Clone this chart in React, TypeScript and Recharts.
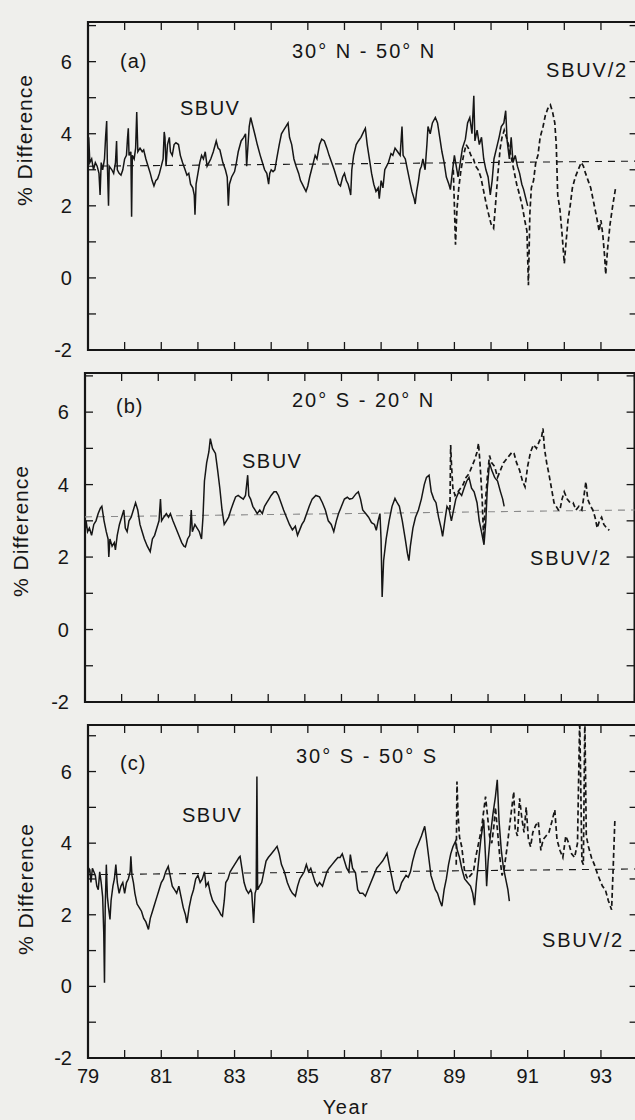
import { Line, LineChart, XAxis, YAxis, ReferenceArea, ReferenceLine } from "recharts";

const INK = "#161616";
const PAPER = "#efefec";
const FONT = '"Liberation Sans", Arial, Helvetica, sans-serif';

const YEARS = [79, 80, 81, 82, 83, 84, 85, 86, 87, 88, 89, 90, 91, 92, 93, 94];
const YEAR_LABELS = [79, 81, 83, 85, 87, 89, 91, 93];
const LEVELS = [-2, -1, 0, 1, 2, 3, 4, 5, 6, 7];
const LEVEL_LABELS = [-2, 0, 2, 4, 6];
const PX_PER_YEAR = 36.64;
const AXIS_W = 30;
const AXIS_H = 30;

// (a) 30N-50N
const A_SBUV: [number, number][] = [
  [79.0, 3.4], [79.02, 3.9], [79.05, 3.2], [79.1, 3.3], [79.15, 3.0], [79.2, 3.2], [79.25, 3.1], [79.3, 2.9],
  [79.33, 2.3], [79.36, 3.2], [79.4, 3.0], [79.45, 3.3], [79.48, 3.9], [79.51, 4.35], [79.53, 3.1], [79.56, 2.0],
  [79.58, 3.1], [79.65, 3.0], [79.7, 2.9], [79.75, 3.2], [79.78, 3.8], [79.8, 3.0], [79.85, 2.9], [79.9, 2.85],
  [79.95, 3.0], [80.0, 3.3], [80.05, 3.4], [80.08, 3.9], [80.1, 4.15], [80.12, 3.4], [80.17, 3.5], [80.19, 1.7],
  [80.21, 3.4], [80.26, 3.3], [80.3, 3.6], [80.33, 4.6], [80.36, 3.5], [80.42, 3.6], [80.48, 3.5], [80.52, 3.55],
  [80.58, 3.3], [80.64, 3.1], [80.7, 2.9], [80.75, 2.7], [80.8, 2.55], [80.85, 2.7], [80.9, 2.75], [80.95, 2.9],
  [81.0, 3.1], [81.05, 3.3], [81.08, 4.05], [81.1, 3.9], [81.13, 3.1], [81.17, 3.7], [81.22, 3.9], [81.25, 3.5],
  [81.3, 3.4], [81.35, 3.7], [81.4, 3.75], [81.47, 3.7], [81.52, 3.4], [81.58, 3.2], [81.65, 3.0], [81.7, 2.85],
  [81.75, 2.9], [81.8, 2.6], [81.86, 2.5], [81.9, 2.3], [81.92, 1.75], [81.95, 2.6], [82.0, 2.9], [82.05, 3.2],
  [82.1, 3.4], [82.15, 3.3], [82.2, 3.5], [82.25, 3.1], [82.3, 3.2], [82.35, 3.3], [82.42, 3.5], [82.5, 3.8],
  [82.55, 3.6], [82.6, 3.55], [82.68, 3.2], [82.75, 3.0], [82.8, 2.8], [82.83, 2.0], [82.86, 2.6], [82.92, 2.8],
  [83.0, 2.95], [83.05, 3.2], [83.1, 3.5], [83.18, 3.8], [83.25, 3.9], [83.3, 4.0], [83.33, 3.1], [83.4, 4.2],
  [83.44, 4.45], [83.5, 4.2], [83.55, 4.0], [83.62, 3.7], [83.7, 3.4], [83.76, 3.2], [83.82, 3.0], [83.88, 2.9],
  [83.93, 2.6], [83.96, 2.9], [84.0, 3.0], [84.05, 2.95], [84.1, 3.0], [84.15, 3.3], [84.22, 3.7], [84.28, 4.0],
  [84.34, 4.1], [84.4, 4.2], [84.46, 4.3], [84.5, 3.9], [84.56, 3.7], [84.62, 3.3], [84.68, 3.1], [84.75, 2.9],
  [84.8, 2.7], [84.85, 2.6], [84.9, 2.5], [84.95, 2.4], [85.0, 2.55], [85.05, 2.8], [85.1, 3.0], [85.15, 3.2],
  [85.2, 3.4], [85.25, 3.3], [85.32, 3.7], [85.38, 3.85], [85.45, 3.8], [85.52, 3.6], [85.58, 3.4], [85.65, 3.2],
  [85.72, 3.0], [85.78, 2.8], [85.84, 2.6], [85.89, 2.55], [85.95, 2.8], [86.0, 2.9], [86.05, 2.7], [86.1, 2.6],
  [86.15, 2.4], [86.17, 2.3], [86.2, 3.0], [86.25, 3.4], [86.32, 3.7], [86.38, 3.8], [86.45, 3.9], [86.52, 4.05],
  [86.57, 4.15], [86.62, 3.7], [86.68, 3.3], [86.74, 2.9], [86.8, 2.6], [86.86, 2.4], [86.92, 2.5], [86.95, 2.2],
  [87.0, 2.7], [87.05, 2.5], [87.1, 3.0], [87.15, 3.1], [87.2, 3.2], [87.27, 3.45], [87.32, 3.4], [87.38, 3.6],
  [87.45, 3.5], [87.52, 3.4], [87.57, 4.2], [87.6, 3.4], [87.66, 3.3], [87.72, 3.0], [87.78, 2.7], [87.84, 2.4],
  [87.9, 2.2], [87.93, 2.05], [87.97, 2.4], [88.02, 2.7], [88.06, 3.0], [88.1, 3.1], [88.14, 3.3], [88.2, 3.0],
  [88.25, 3.7], [88.28, 4.2], [88.34, 4.0], [88.4, 4.3], [88.48, 4.45], [88.54, 4.3], [88.6, 3.9], [88.66, 3.5],
  [88.72, 3.2], [88.78, 2.8], [88.85, 2.6], [88.89, 2.45], [88.94, 2.9], [89.0, 3.4], [89.05, 3.1], [89.1, 2.8],
  [89.16, 3.2], [89.22, 3.6], [89.3, 3.85], [89.36, 4.3], [89.42, 4.45], [89.48, 4.0], [89.53, 5.05], [89.56, 3.8],
  [89.62, 4.1], [89.68, 3.7], [89.74, 3.9], [89.8, 3.3], [89.86, 3.0], [89.92, 2.8], [89.98, 2.3], [90.03, 2.7],
  [90.08, 3.3], [90.15, 3.6], [90.22, 3.9], [90.28, 4.2], [90.35, 4.3], [90.4, 4.64], [90.44, 3.8], [90.5, 3.3],
  [90.55, 3.9], [90.6, 3.2], [90.66, 3.4], [90.72, 3.1], [90.78, 2.9], [90.84, 2.6], [90.89, 2.45], [90.95, 2.2],
  [91.0, 2.0],
];
const A_SBUV2: [number, number][] = [
  [88.97, 3.0], [89.0, 2.0], [89.03, 0.92], [89.07, 1.9], [89.12, 2.5], [89.18, 3.0], [89.25, 3.4], [89.32, 3.7],
  [89.38, 3.6], [89.45, 3.4], [89.52, 3.3], [89.58, 3.1], [89.65, 3.0], [89.72, 2.8], [89.8, 2.4], [89.88, 2.0],
  [89.95, 1.7], [90.0, 1.5], [90.07, 1.38], [90.12, 2.0], [90.18, 2.8], [90.25, 3.6], [90.3, 3.9], [90.36, 4.1],
  [90.42, 3.9], [90.5, 3.6], [90.56, 3.3], [90.62, 3.0], [90.7, 2.6], [90.78, 2.3], [90.85, 2.0], [90.92, 1.6],
  [90.98, 1.3], [91.02, -0.2], [91.06, 1.8], [91.1, 2.5], [91.16, 2.7], [91.22, 3.2], [91.28, 3.4], [91.34, 3.9],
  [91.42, 4.2], [91.48, 4.5], [91.55, 4.7], [91.62, 4.8], [91.68, 4.6], [91.74, 4.3], [91.78, 3.7], [91.82, 2.3],
  [91.88, 1.9], [91.94, 1.2], [92.0, 0.4], [92.04, 0.9], [92.1, 1.6], [92.16, 2.0], [92.22, 2.5], [92.3, 2.8],
  [92.38, 3.0], [92.46, 3.2], [92.52, 3.1], [92.58, 2.9], [92.65, 2.7], [92.72, 2.5], [92.8, 2.1], [92.88, 1.7],
  [92.95, 1.3], [93.0, 1.6], [93.05, 1.2], [93.1, 0.6], [93.13, 0.1], [93.18, 0.8], [93.25, 1.5], [93.32, 2.0],
  [93.4, 2.5],
];
const A_MEAN = [3.1, 3.24];

// (b) 20S-20N
const B_SBUV: [number, number][] = [
  [79.0, 2.7], [79.03, 3.0], [79.07, 2.7], [79.12, 2.8], [79.18, 2.6], [79.24, 2.9], [79.3, 3.0], [79.36, 3.2],
  [79.42, 3.35], [79.46, 3.4], [79.52, 3.0], [79.58, 2.7], [79.63, 2.5], [79.65, 2.0], [79.68, 2.5], [79.74, 2.3],
  [79.8, 2.4], [79.83, 2.2], [79.88, 2.6], [79.94, 2.9], [80.0, 3.1], [80.06, 3.3], [80.1, 2.8], [80.15, 2.7],
  [80.2, 3.0], [80.26, 3.1], [80.32, 3.3], [80.38, 3.5], [80.44, 3.3], [80.5, 2.9], [80.56, 2.7], [80.62, 2.5],
  [80.7, 2.3], [80.78, 2.15], [80.84, 2.5], [80.9, 2.6], [80.96, 2.8], [81.02, 3.0], [81.06, 3.6], [81.09, 3.0],
  [81.15, 3.1], [81.22, 3.2], [81.28, 3.1], [81.33, 3.2], [81.4, 3.0], [81.48, 2.8], [81.56, 2.6], [81.64, 2.4],
  [81.7, 2.3], [81.74, 2.28], [81.8, 2.5], [81.86, 2.6], [81.9, 3.3], [81.93, 2.7], [82.0, 2.9], [82.06, 2.8],
  [82.12, 2.7], [82.18, 2.5], [82.22, 3.1], [82.26, 4.1], [82.32, 4.6], [82.38, 4.9], [82.42, 5.27], [82.48, 5.0],
  [82.56, 4.86], [82.62, 4.4], [82.68, 3.9], [82.74, 3.3], [82.8, 2.9], [82.86, 3.0], [82.92, 3.1], [82.98, 3.3],
  [83.05, 3.5], [83.11, 3.66], [83.18, 3.7], [83.25, 3.65], [83.32, 3.6], [83.38, 3.7], [83.44, 4.26], [83.47, 3.7],
  [83.52, 3.6], [83.58, 3.4], [83.64, 3.3], [83.7, 3.2], [83.77, 3.3], [83.84, 3.2], [83.9, 3.4], [83.96, 3.5],
  [84.02, 3.6], [84.08, 3.7], [84.16, 3.8], [84.22, 3.8], [84.28, 3.7], [84.35, 3.5], [84.42, 3.3], [84.5, 3.1],
  [84.58, 2.9], [84.66, 2.75], [84.74, 2.85], [84.8, 2.6], [84.86, 2.75], [84.92, 2.9], [84.98, 3.0], [85.05, 3.2],
  [85.12, 3.4], [85.2, 3.6], [85.3, 3.7], [85.4, 3.66], [85.48, 3.5], [85.56, 3.3], [85.64, 3.0], [85.72, 2.9],
  [85.79, 2.7], [85.86, 3.0], [85.92, 3.2], [86.0, 3.4], [86.08, 3.6], [86.16, 3.65], [86.22, 3.6], [86.3, 3.62],
  [86.4, 3.75], [86.46, 3.8], [86.52, 3.6], [86.58, 3.3], [86.66, 3.2], [86.74, 3.1], [86.82, 2.95], [86.9, 2.9],
  [86.95, 2.74], [87.0, 3.0], [87.05, 3.2], [87.08, 2.5], [87.11, 0.9], [87.15, 1.9], [87.22, 2.5], [87.3, 3.0],
  [87.38, 3.4], [87.46, 3.62], [87.52, 3.5], [87.58, 3.4], [87.66, 3.0], [87.74, 2.5], [87.8, 2.1], [87.84, 1.9],
  [87.88, 2.3], [87.95, 2.8], [88.02, 3.1], [88.1, 3.3], [88.18, 3.6], [88.26, 4.0], [88.32, 4.2], [88.39, 4.26],
  [88.45, 3.8], [88.52, 3.6], [88.58, 3.5], [88.65, 3.1], [88.72, 2.8], [88.76, 2.57], [88.82, 3.0], [88.88, 3.4],
  [88.94, 3.3], [89.0, 3.0], [89.06, 3.3], [89.12, 3.6], [89.2, 3.8], [89.28, 3.7], [89.36, 3.94], [89.42, 4.1],
  [89.48, 4.2], [89.55, 3.9], [89.62, 3.8], [89.7, 3.5], [89.76, 3.0], [89.82, 2.7], [89.89, 2.34], [89.94, 3.0],
  [89.98, 3.9], [90.04, 4.6], [90.1, 4.4], [90.18, 4.2], [90.26, 4.1], [90.34, 3.8], [90.4, 3.6], [90.44, 3.4],
];
const B_SBUV2: [number, number][] = [
  [88.96, 3.3], [88.98, 5.09], [89.0, 4.6], [89.04, 3.9], [89.1, 3.7], [89.18, 3.8], [89.25, 3.9], [89.32, 4.0],
  [89.4, 4.2], [89.48, 4.3], [89.56, 4.5], [89.64, 4.7], [89.7, 4.9], [89.74, 5.14], [89.78, 4.6], [89.84, 3.6],
  [89.88, 2.5], [89.92, 3.4], [89.98, 4.2], [90.04, 4.8], [90.1, 4.6], [90.18, 4.5], [90.26, 4.2], [90.34, 4.4],
  [90.42, 4.6], [90.5, 4.7], [90.58, 4.8], [90.66, 4.9], [90.71, 4.86], [90.78, 4.6], [90.86, 4.4], [90.94, 4.1],
  [91.01, 3.94], [91.08, 4.5], [91.16, 4.9], [91.24, 5.1], [91.32, 5.0], [91.4, 5.2], [91.46, 5.3], [91.5, 5.55],
  [91.54, 5.0], [91.6, 4.6], [91.66, 4.3], [91.74, 3.85], [91.8, 3.5], [91.86, 3.4], [91.92, 3.3], [91.96, 3.29],
  [92.02, 3.6], [92.08, 3.8], [92.16, 3.6], [92.24, 3.5], [92.32, 3.5], [92.4, 3.3], [92.48, 3.4], [92.56, 3.3],
  [92.62, 3.7], [92.67, 4.08], [92.72, 3.6], [92.8, 3.4], [92.86, 3.3], [92.92, 3.1], [92.98, 2.8], [93.04, 3.0],
  [93.1, 3.1], [93.16, 2.9], [93.24, 2.8], [93.31, 2.74],
];
const B_MEAN = [3.11, 3.3];

// (c) 30S-50S
const C_SBUV: [number, number][] = [
  [79.0, 3.0], [79.02, 3.3], [79.05, 3.26], [79.08, 2.9], [79.12, 3.3], [79.16, 3.2], [79.2, 3.1], [79.24, 2.8],
  [79.28, 2.7], [79.32, 3.2], [79.36, 2.9], [79.4, 2.5], [79.43, 1.5], [79.45, 0.1], [79.47, 2.2], [79.5, 3.4],
  [79.53, 2.5], [79.56, 2.2], [79.6, 1.87], [79.63, 2.4], [79.68, 2.8], [79.72, 3.0], [79.76, 3.4], [79.8, 2.9],
  [79.85, 2.6], [79.9, 2.8], [79.95, 2.9], [80.0, 2.6], [80.05, 2.9], [80.1, 3.0], [80.15, 3.2], [80.17, 3.63],
  [80.2, 3.1], [80.24, 2.9], [80.28, 2.6], [80.34, 2.3], [80.4, 2.2], [80.46, 2.1], [80.52, 1.9], [80.58, 1.8],
  [80.65, 1.59], [80.7, 1.9], [80.76, 2.1], [80.82, 2.3], [80.88, 2.5], [80.94, 2.7], [81.0, 2.9], [81.06, 3.0],
  [81.12, 3.2], [81.19, 3.35], [81.24, 3.1], [81.3, 2.8], [81.36, 2.7], [81.42, 2.6], [81.48, 2.8], [81.54, 2.5],
  [81.6, 2.2], [81.66, 2.0], [81.7, 1.77], [81.76, 2.2], [81.82, 2.5], [81.88, 2.7], [81.94, 3.0], [82.0, 3.1],
  [82.06, 2.9], [82.12, 3.0], [82.18, 3.2], [82.22, 2.8], [82.28, 2.9], [82.34, 2.6], [82.4, 2.4], [82.46, 2.3],
  [82.52, 2.2], [82.58, 2.1], [82.63, 2.0], [82.67, 1.96], [82.72, 2.4], [82.76, 2.9], [82.82, 3.0], [82.88, 3.2],
  [82.94, 3.3], [83.0, 3.4], [83.06, 3.5], [83.12, 3.6], [83.15, 3.63], [83.2, 3.3], [83.26, 2.9], [83.32, 2.7],
  [83.38, 2.6], [83.44, 2.7], [83.47, 2.61], [83.52, 1.77], [83.56, 2.6], [83.59, 2.7], [83.61, 5.86], [83.63, 2.7],
  [83.68, 2.8], [83.74, 2.9], [83.8, 3.2], [83.86, 3.5], [83.92, 3.6], [84.0, 3.7], [84.08, 3.8], [84.16, 3.91],
  [84.22, 3.7], [84.28, 3.4], [84.36, 3.2], [84.44, 2.9], [84.52, 2.7], [84.58, 2.6], [84.66, 2.52], [84.72, 2.8],
  [84.78, 3.0], [84.84, 3.1], [84.9, 3.2], [84.96, 3.4], [85.02, 3.2], [85.08, 3.3], [85.14, 3.1], [85.2, 2.9],
  [85.26, 2.8], [85.32, 2.9], [85.4, 2.8], [85.46, 3.0], [85.52, 3.2], [85.58, 3.3], [85.66, 3.4], [85.74, 3.5],
  [85.82, 3.6], [85.88, 3.6], [85.94, 3.7], [86.0, 3.5], [86.06, 3.3], [86.12, 3.2], [86.16, 3.68], [86.22, 3.3],
  [86.3, 3.17], [86.36, 2.7], [86.42, 2.6], [86.5, 2.6], [86.57, 2.52], [86.64, 2.7], [86.72, 2.9], [86.8, 3.1],
  [86.88, 3.3], [86.96, 3.4], [87.04, 3.5], [87.1, 3.6], [87.16, 3.72], [87.22, 3.4], [87.3, 3.0], [87.36, 2.7],
  [87.42, 2.6], [87.5, 2.7], [87.56, 2.9], [87.62, 3.0], [87.68, 3.1], [87.74, 3.05], [87.8, 3.2], [87.86, 3.5],
  [87.94, 3.8], [88.02, 4.0], [88.1, 4.2], [88.19, 4.47], [88.24, 4.1], [88.3, 3.6], [88.36, 3.1], [88.42, 2.9],
  [88.48, 2.7], [88.54, 2.6], [88.6, 2.4], [88.66, 2.24], [88.72, 2.7], [88.78, 3.0], [88.84, 3.4], [88.9, 3.7],
  [88.96, 3.9], [89.03, 4.05], [89.08, 3.8], [89.14, 3.6], [89.2, 3.3], [89.28, 3.0], [89.36, 2.9], [89.44, 2.8],
  [89.5, 2.6], [89.55, 2.27], [89.6, 2.9], [89.66, 3.5], [89.72, 4.1], [89.8, 4.65], [89.85, 3.6], [89.88, 2.8],
  [89.92, 3.5], [89.98, 4.2], [90.05, 4.8], [90.12, 5.3], [90.17, 5.77], [90.22, 4.6], [90.28, 3.8], [90.34, 3.3],
  [90.4, 3.0], [90.46, 2.7], [90.5, 2.38],
];
const C_SBUV2: [number, number][] = [
  [89.05, 3.4], [89.07, 5.72], [89.1, 4.8], [89.14, 4.17], [89.2, 3.9], [89.28, 3.2], [89.36, 3.0], [89.44, 3.1],
  [89.52, 3.2], [89.58, 3.6], [89.66, 4.0], [89.74, 4.4], [89.8, 4.9], [89.85, 5.3], [89.9, 4.8], [89.96, 4.2],
  [90.02, 4.0], [90.08, 4.5], [90.12, 5.0], [90.18, 4.3], [90.24, 3.6], [90.3, 3.1], [90.36, 3.3], [90.44, 3.9],
  [90.52, 4.6], [90.58, 5.1], [90.62, 5.44], [90.66, 4.4], [90.72, 4.2], [90.78, 5.25], [90.84, 4.7], [90.9, 4.3],
  [90.96, 5.0], [91.02, 4.1], [91.08, 3.9], [91.14, 4.3], [91.22, 4.5], [91.29, 4.6], [91.36, 3.8], [91.42, 4.1],
  [91.5, 4.2], [91.58, 4.3], [91.66, 4.6], [91.74, 4.93], [91.8, 4.1], [91.88, 3.8], [91.96, 3.6], [92.04, 4.2],
  [92.12, 4.0], [92.2, 3.7], [92.28, 3.6], [92.36, 4.0], [92.42, 7.5], [92.48, 3.5], [92.52, 3.4], [92.56, 7.5],
  [92.6, 4.2], [92.66, 3.9], [92.74, 3.6], [92.82, 3.4], [92.92, 3.1], [93.04, 2.8], [93.12, 2.7], [93.2, 2.4],
  [93.29, 2.14], [93.33, 3.2], [93.38, 4.65],
];
const C_MEAN = [3.12, 3.28];

const pts = (a: [number, number][]) => a.map(([x, y]) => ({ x, y }));

function XTick(props: any) {
  const { x, y, payload, plotH, labels } = props;
  const v = payload.value;
  return (
    <g>
      <line x1={x} x2={x} y1={y} y2={y - 8} stroke={INK} strokeWidth={1.3} />
      <line x1={x} x2={x} y1={y - plotH} y2={y - plotH + 8} stroke={INK} strokeWidth={1.3} />
      {labels && YEAR_LABELS.includes(v) ? (
        <text x={x} y={y + 25} textAnchor="middle" fontSize={20} fill={INK} fontFamily={FONT}>
          {v}
        </text>
      ) : null}
    </g>
  );
}

function YTick(props: any) {
  const { x, y, payload, plotW } = props;
  const v = payload.value;
  return (
    <g>
      <line x1={x} x2={x + 8} y1={y} y2={y} stroke={INK} strokeWidth={1.3} />
      <line x1={x + plotW} x2={x + plotW - 8} y1={y} y2={y} stroke={INK} strokeWidth={1.3} />
      {LEVEL_LABELS.includes(v) ? (
        <text x={x - 16} y={y + 7} textAnchor="end" fontSize={20} fill={INK} fontFamily={FONT}>
          {v}
        </text>
      ) : null}
    </g>
  );
}

type PanelProps = {
  sbuv: [number, number][];
  sbuv2: [number, number][];
  mean: number[];
  left: number;
  top: number;
  bottom: number;
  yMax: number;
  xLabels?: boolean;
  meanColor?: string;
};

function Panel({ sbuv, sbuv2, mean, left, top, bottom, yMax, xLabels = false, meanColor = INK }: PanelProps) {
  const plotH = bottom - top;
  const plotW = (YEARS[YEARS.length - 1] - YEARS[0]) * PX_PER_YEAR;
  const mb = xLabels ? 12 : 0;
  return (
    <div style={{ position: "absolute", left: 0, top: top - 10 }}>
      <LineChart
        width={left + plotW + 6}
        height={plotH + 10 + AXIS_H + mb}
        margin={{ top: 10, right: 6, bottom: mb, left: left - AXIS_W }}
      >
        <XAxis
          type="number"
          dataKey="x"
          domain={[79, 94]}
          ticks={YEARS}
          interval={0}
          axisLine={false}
          tickLine={false}
          tickSize={0}
          tickMargin={0}
          height={AXIS_H}
          allowDataOverflow
          tick={(p: any) => <XTick {...p} plotH={plotH} labels={xLabels} />}
        />
        <YAxis
          type="number"
          domain={[-2, yMax]}
          ticks={LEVELS}
          interval={0}
          axisLine={false}
          tickLine={false}
          tickSize={0}
          tickMargin={0}
          width={AXIS_W}
          allowDataOverflow
          tick={(p: any) => <YTick {...p} plotW={plotW} />}
        />
        <ReferenceLine
          segment={[{ x: 79, y: mean[0] }, { x: 94, y: mean[1] }]}
          stroke={meanColor}
          strokeWidth={1.1}
          strokeDasharray="7 6"
        />
        <Line data={pts(sbuv)} dataKey="y" type="linear" stroke={INK} strokeWidth={1.5} dot={false} isAnimationActive={false} />
        <Line
          data={pts(sbuv2)}
          dataKey="y"
          type="linear"
          stroke={INK}
          strokeWidth={1.7}
          strokeDasharray="5 3"
          dot={false}
          isAnimationActive={false}
        />
        <ReferenceArea x1={79} x2={94} y1={-2} y2={yMax} fill="none" stroke={INK} strokeWidth={2.2} />
      </LineChart>
    </div>
  );
}

const txt = { fontFamily: FONT, fill: INK } as const;

export default function App() {
  return (
    <div
      style={{
        position: "absolute",
        left: 0,
        top: 0,
        width: 635,
        height: 1120,
        overflow: "hidden",
        background: PAPER,
        fontFamily: FONT,
      }}
    >
      <Panel sbuv={A_SBUV} sbuv2={A_SBUV2} mean={A_MEAN} left={88} top={22} bottom={350} yMax={7.1} />
      <Panel sbuv={B_SBUV} sbuv2={B_SBUV2} mean={B_MEAN} left={85} top={373} bottom={702} yMax={7.08} meanColor="#8a8a8a" />
      <Panel sbuv={C_SBUV} sbuv2={C_SBUV2} mean={C_MEAN} left={88} top={725} bottom={1058} yMax={7.3} xLabels />

      <svg width={635} height={1120} style={{ position: "absolute", left: 0, top: 0, pointerEvents: "none" }}>
        <text {...txt} fontSize={21} letterSpacing={1} textAnchor="middle" transform="translate(32,140) rotate(-90)">% Difference</text>
        <text {...txt} fontSize={21} letterSpacing={1} textAnchor="middle" transform="translate(28,531) rotate(-90)">% Difference</text>
        <text {...txt} fontSize={21} letterSpacing={1} textAnchor="middle" transform="translate(33,889) rotate(-90)">% Difference</text>

        <text {...txt} x={120} y={68} fontSize={20} letterSpacing={1}>(a)</text>
        <text {...txt} x={292} y={58} fontSize={20} letterSpacing={2}>30° N - 50° N</text>
        <text {...txt} x={180} y={115} fontSize={20} letterSpacing={1.5}>SBUV</text>
        <text {...txt} x={546} y={77} fontSize={20} letterSpacing={1.8}>SBUV/2</text>

        <text {...txt} x={116} y={413} fontSize={20} letterSpacing={1}>(b)</text>
        <text {...txt} x={292} y={407} fontSize={20} letterSpacing={2}>20° S - 20° N</text>
        <text {...txt} x={242} y={468} fontSize={20} letterSpacing={1.5}>SBUV</text>
        <text {...txt} x={530} y={565} fontSize={20} letterSpacing={1.8}>SBUV/2</text>

        <text {...txt} x={120} y={770} fontSize={20} letterSpacing={1}>(c)</text>
        <text {...txt} x={296} y={763} fontSize={20} letterSpacing={2}>30° S - 50° S</text>
        <text {...txt} x={182} y={822} fontSize={20} letterSpacing={1.5}>SBUV</text>
        <text {...txt} x={542} y={947} fontSize={20} letterSpacing={1.8}>SBUV/2</text>

        <text {...txt} x={346} y={1114} fontSize={20} letterSpacing={1.5} textAnchor="middle">Year</text>
      </svg>
    </div>
  );
}
